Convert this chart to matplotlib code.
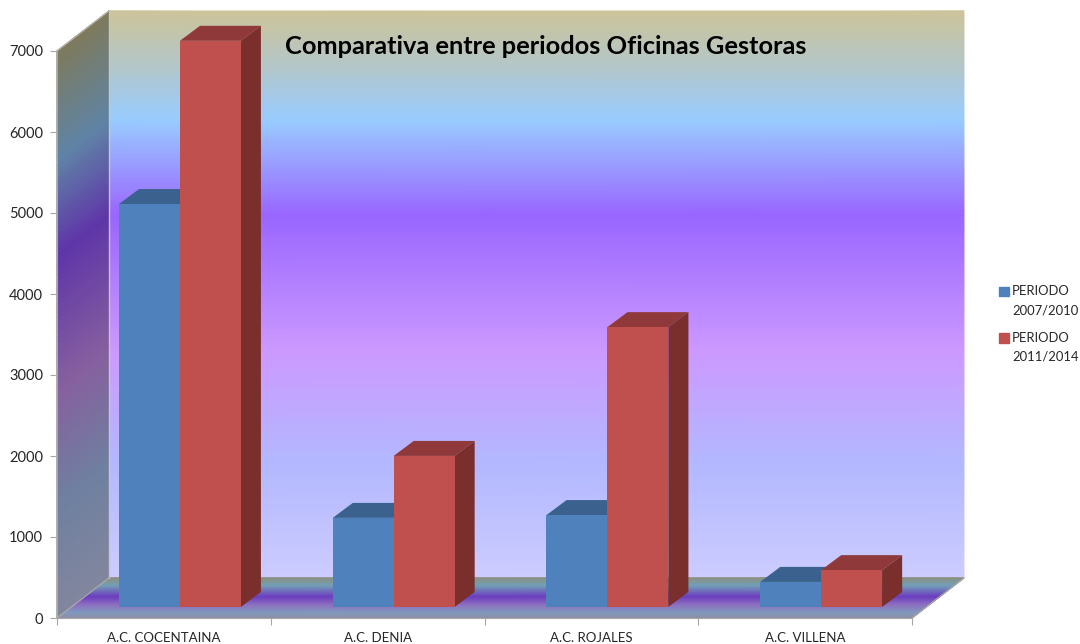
import matplotlib
matplotlib.use("Agg")
import matplotlib.pyplot as plt
from matplotlib.colors import LinearSegmentedColormap
from matplotlib.legend_handler import HandlerPatch
from matplotlib.patches import Patch, Polygon, Rectangle
import numpy as np

plt.rcParams['font.family'] = ['Lato', 'DejaVu Sans']

# data
oficinas = ['A.C. COCENTAINA', 'A.C. DENIA', 'A.C. ROJALES', 'A.C. VILLENA']
periodo_2007 = [4975, 1100, 1135, 310]
periodo_2011 = [6990, 1865, 3455, 455]
nombres = ['PERIODO\n2007/2010', 'PERIODO\n2011/2014']
yticks = [0, 1000, 2000, 3000, 4000, 5000, 6000, 7000]
titulo = 'Comparativa entre periodos Oficinas Gestoras'

# 3d look, in data units
wall_dx, wall_dy = 0.243, 494
bar_dx, bar_dy = 0.094, 185
bar_x_off, bar_base = 0.075, 136
bar_w = 0.285
wall_top = 7000

back_cmap = LinearSegmentedColormap.from_list('back', [
    (0.00, '#CCC49A'), (0.09, '#B5C6C6'), (0.19, '#99CCFF'), (0.36, '#9966FF'),
    (0.60, '#CC99FF'), (0.80, '#B3B8FF'), (1.00, '#CCCCFF')])
side_cmap = LinearSegmentedColormap.from_list('side', [
    (0.00, '#7F7A5C'), (0.19, '#5F84A6'), (0.36, '#5F36A8'),
    (0.60, '#87609F'), (0.80, '#6F80A0'), (1.00, '#82869E')])
floor_cmap = LinearSegmentedColormap.from_list('floor', [
    (0.00, '#8F9080'), (0.20, '#72A0B8'), (0.48, '#6C3FBF'), (0.68, '#8E70C0'),
    (0.88, '#7F9ABE'), (1.00, '#8F90A8')])

fig = plt.figure(figsize=(10.8, 6.44), dpi=100)
ax = fig.add_axes([57 / 1080, 26 / 644, 855 / 1080, 567 / 644])
ax.set_xlim(0, 4)
ax.set_ylim(0, 7000)

# gradient coordinate, 0 at the top of the wall
t = np.linspace(0, 1, 120)
s = np.array([0.0, 1.0])
tt, ss = np.meshgrid(t, s)

# back wall
xb = 0 + wall_dx + ss * 4
yb = wall_dy + (wall_top - tt * wall_top)
ax.pcolormesh(xb, yb, tt, cmap=back_cmap, shading='gouraud', clip_on=False, zorder=1, vmin=0, vmax=1)

# left wall
xl = ss * wall_dx
yl = (wall_top - tt * wall_top) + ss * wall_dy
ax.pcolormesh(xl, yl, tt, cmap=side_cmap, shading='gouraud', clip_on=False, zorder=1, vmin=0, vmax=1)

# floor, s runs left to right, t from back to front
xf = ss * 4 + (1 - tt) * wall_dx
yf = (1 - tt) * wall_dy
ax.pcolormesh(xf, yf, tt, cmap=floor_cmap, shading='gouraud', clip_on=False, zorder=1, vmin=0, vmax=1)

edge = '#A6A6A6'
ax.plot([wall_dx, wall_dx], [wall_dy, wall_dy + wall_top], color='#C8C8C0', lw=1, clip_on=False, zorder=2)
ax.plot([0, wall_dx], [0, wall_dy], color=edge, lw=1, clip_on=False, zorder=2)
ax.plot([4, 4 + wall_dx], [0, wall_dy], color=edge, lw=1, clip_on=False, zorder=2)
ax.plot([wall_dx, 0, 0], [wall_dy + wall_top, wall_top, 0], color='#B0B0A8', lw=1, clip_on=False, zorder=2)


def barra3d(x, v, front, top, side, z):
    ax.bar(x, v, bar_w, bottom=bar_base, align='edge', color=front, clip_on=False, zorder=z + 0.2)
    y1 = bar_base + v
    ax.add_patch(Polygon([(x, y1), (x + bar_dx, y1 + bar_dy), (x + bar_w + bar_dx, y1 + bar_dy), (x + bar_w, y1)],
                         facecolor=top, edgecolor='none', clip_on=False, zorder=z))
    ax.add_patch(Polygon([(x + bar_w, bar_base), (x + bar_w + bar_dx, bar_base + bar_dy),
                          (x + bar_w + bar_dx, y1 + bar_dy), (x + bar_w, y1)],
                         facecolor=side, edgecolor='none', clip_on=False, zorder=z))


for i in range(len(oficinas)):
    c = i + 0.5 + bar_x_off
    barra3d(c - bar_w, periodo_2007[i], '#4F81BD', '#3B618E', '#2F4F75', 3)
    barra3d(c, periodo_2011[i], '#C0504D', '#90393A', '#7B2F2D', 4)

# axes
for sp in ['top', 'right']:
    ax.spines[sp].set_visible(False)
ax.spines['left'].set_color(edge)
ax.spines['bottom'].set_color(edge)
ax.spines['left'].set_zorder(2)
ax.spines['bottom'].set_zorder(2)

ax.set_yticks(yticks)
ax.tick_params(axis='y', length=5, color=edge, labelsize=10.5, labelcolor='#262626', pad=5)
ax.set_xticks(range(5))
ax.set_xticklabels([])
ax.set_xticks(np.arange(len(oficinas)) + 0.5, minor=True)
ax.set_xticklabels(oficinas, minor=True)
ax.tick_params(axis='x', which='major', length=5, color=edge)
ax.tick_params(axis='x', which='minor', length=0, labelsize=9.5, labelcolor='#262626', pad=10)

fig.text(545.5 / 1080, 1 - 46 / 644, titulo, ha='center', va='center', fontsize=18.3, fontweight='bold', color='black', zorder=10)


# legend square sits next to the first line of the label
def cuadrado(legend, orig_handle, xdescent, ydescent, width, height, fontsize):
    return Rectangle((-xdescent, -ydescent + 0.75 * fontsize), width, height)


handles = [Patch(color='#4F81BD'), Patch(color='#C0504D')]
leg = fig.legend(handles, nombres, loc='center left', bbox_to_anchor=(999 / 1080, 1 - 324 / 644), frameon=False,
                 fontsize=9.4, handlelength=0.75, handleheight=0.75, handletextpad=0.25, labelspacing=1.2,
                 borderpad=0, borderaxespad=0, labelcolor='#262626',
                 handler_map={Patch: HandlerPatch(patch_func=cuadrado)})
for txt in leg.get_texts():
    txt.set_linespacing(1.7)

fig.savefig('out.png', dpi=100)
